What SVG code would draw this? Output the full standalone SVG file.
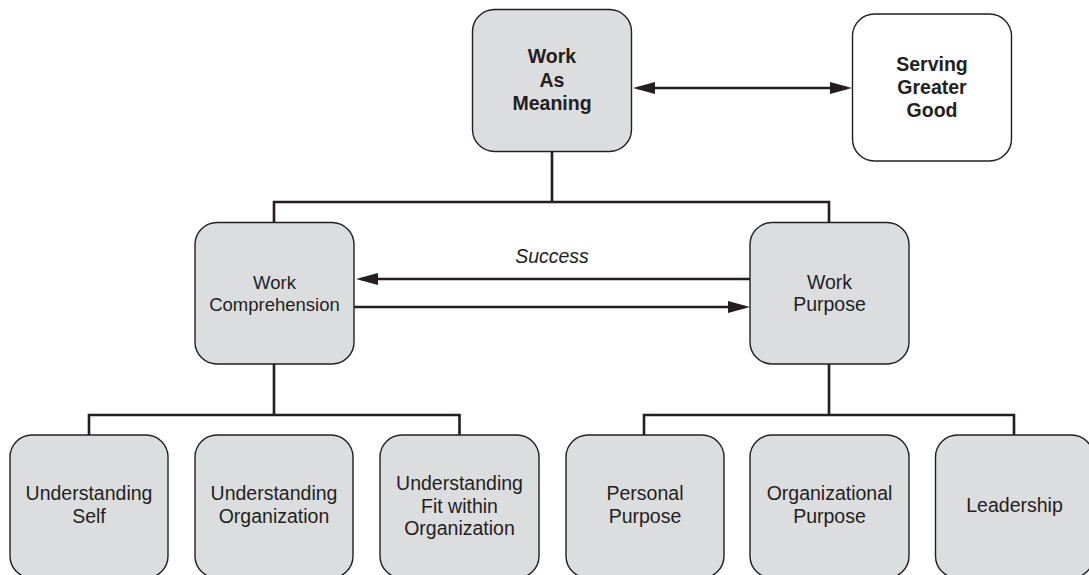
<svg xmlns="http://www.w3.org/2000/svg" width="1089" height="575" viewBox="0 0 1089 575">
<style>
.box{fill:#dcdddf;stroke:#231f20;stroke-width:1.4}
.wbox{fill:#ffffff;stroke:#231f20;stroke-width:1.4}
.t{font-family:"Liberation Sans",Arial,sans-serif;font-size:19.5px;fill:#231f20;text-anchor:middle}
.b{font-weight:bold}
.i{font-style:italic}
.c{fill:none;stroke:#231f20;stroke-width:2.6}
</style>
<defs>
<marker id="ah" markerUnits="userSpaceOnUse" markerWidth="22" markerHeight="12" viewBox="0 0 22 12" refX="17" refY="6" orient="auto-start-reverse">
<path d="M0,0 L22,6 L0,12 Z" fill="#231f20"/>
</marker>
</defs>
<rect width="1089" height="575" fill="#ffffff"/>
<g id="connectors">
<path class="c" d="M552,152 V202 M274,222 V202 H829 V222"/>
<path class="c" d="M274,364 V415 M89,435 V415 H459.5 V435"/>
<path class="c" d="M829,364 V415 M644,435 V415 H1014 V435"/>
<line class="c" x1="638" y1="88" x2="847" y2="88" marker-start="url(#ah)" marker-end="url(#ah)"/>
<line class="c" x1="750" y1="279" x2="361" y2="279" marker-end="url(#ah)"/>
<line class="c" x1="354" y1="307" x2="745" y2="307" marker-end="url(#ah)"/>
<text class="t i" x="552" y="263">Success</text>
</g>
<g id="work-as-meaning">
<rect class="box" x="472.5" y="9.5" width="159" height="142" rx="22"/>
<text class="t b" x="552" y="63">Work</text>
<text class="t b" x="552" y="87">As</text>
<text class="t b" x="552" y="110">Meaning</text>
</g>
<g id="serving-greater-good">
<rect class="wbox" x="852.5" y="14" width="159" height="147" rx="22"/>
<text class="t b" x="932" y="71">Serving</text>
<text class="t b" x="932" y="94">Greater</text>
<text class="t b" x="932" y="117">Good</text>
</g>
<g id="work-comprehension">
<rect class="box" x="195" y="222.5" width="159" height="141.5" rx="22"/>
<text class="t" x="274.5" y="289" style="font-size:18.5px">Work</text>
<text class="t" x="274.5" y="311" style="font-size:18.5px">Comprehension</text>
</g>
<g id="work-purpose">
<rect class="box" x="750" y="222.5" width="159" height="141.5" rx="22"/>
<text class="t" x="829.5" y="289">Work</text>
<text class="t" x="829.5" y="311">Purpose</text>
</g>
<g id="understanding-self">
<rect class="box" x="10" y="435" width="158" height="143" rx="22"/>
<text class="t" x="89" y="500">Understanding</text>
<text class="t" x="89" y="523">Self</text>
</g>
<g id="understanding-organization">
<rect class="box" x="195" y="435" width="158" height="143" rx="22"/>
<text class="t" x="274" y="500">Understanding</text>
<text class="t" x="274" y="523">Organization</text>
</g>
<g id="understanding-fit">
<rect class="box" x="380" y="435" width="159" height="143" rx="22"/>
<text class="t" x="459.5" y="490">Understanding</text>
<text class="t" x="459.5" y="512.5">Fit within</text>
<text class="t" x="459.5" y="535">Organization</text>
</g>
<g id="personal-purpose">
<rect class="box" x="566" y="435" width="158" height="143" rx="22"/>
<text class="t" x="645" y="500">Personal</text>
<text class="t" x="645" y="523">Purpose</text>
</g>
<g id="organizational-purpose">
<rect class="box" x="750" y="435" width="159" height="143" rx="22"/>
<text class="t" x="829.5" y="500">Organizational</text>
<text class="t" x="829.5" y="523">Purpose</text>
</g>
<g id="leadership">
<rect class="box" x="935.5" y="435" width="158" height="143" rx="22"/>
<text class="t" x="1014.5" y="512">Leadership</text>
</g>
</svg>
